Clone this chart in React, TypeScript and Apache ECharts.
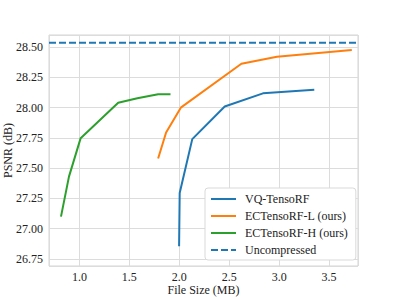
import React, { useEffect, useRef } from "react";
import * as echarts from "echarts";

const X_MIN = 0.695;
const X_MAX = 3.79;
const Y_MIN = 26.692;
const Y_MAX = 28.6;

const vqX = [1.998, 2.004, 2.13, 2.455, 2.838, 3.352];
const vqY = [26.855, 27.295, 27.74, 28.01, 28.118, 28.148];

const ecLX = [1.788, 1.868, 2.015, 2.622, 2.978, 3.728];
const ecLY = [27.58, 27.795, 28.0, 28.362, 28.42, 28.476];

const ecHX = [0.815, 0.895, 1.012, 1.388, 1.58, 1.788, 1.912];
const ecHY = [27.1, 27.43, 27.748, 28.04, 28.078, 28.11, 28.11];

const uncompressedPSNR = 28.535;

const seriesNames = ["VQ-TensoRF", "ECTensoRF-L (ours)", "ECTensoRF-H (ours)", "Uncompressed"];
const colors = ["#1f77b4", "#ff7f0e", "#2ca02c", "#1f77b4"];

const zip = (xs: number[], ys: number[]) => xs.map((x, i) => [x, ys[i]]);

export default function App() {
  const ref = useRef<HTMLDivElement>(null);
  useEffect(() => {
    if (!ref.current) return;
    const chart = echarts.init(ref.current, null, { renderer: "svg" });
    const font = "'Liberation Serif', 'Times New Roman', serif";
    const textColor = "#222222";
    const lineSeries = (name: string, data: number[][], color: string, dashed = false) => ({
      name,
      type: "line",
      data,
      symbol: "none",
      lineStyle: { color, width: 2, type: dashed ? [7, 3] : "solid" },
      itemStyle: { color },
      z: dashed ? 1 : 2,
    });
    chart.setOption({
      animation: false,
      textStyle: { fontFamily: font, color: textColor },
      grid: {
        left: 49,
        right: 41,
        top: 35,
        bottom: 33,
        containLabel: false,
        outerBoundsMode: "none",
        show: true,
        borderColor: "#d4d4d4",
        borderWidth: 1,
      },
      xAxis: {
        type: "value",
        min: X_MIN,
        max: X_MAX,
        minInterval: 0.5,
        maxInterval: 0.5,
        name: "File Size (MB)",
        nameLocation: "middle",
        nameGap: 18,
        nameMoveOverlap: false,
        nameTextStyle: { fontFamily: font, fontSize: 12, color: textColor },
        axisLine: { show: false },
        axisTick: { show: false },
        axisLabel: {
          fontFamily: font,
          fontSize: 12,
          color: textColor,
          margin: 5,
          showMinLabel: false,
          showMaxLabel: false,
          formatter: (v: number) => v.toFixed(1),
        },
        splitLine: { show: true, lineStyle: { color: "#dcdcdc", width: 1 } },
      },
      yAxis: {
        type: "value",
        min: Y_MIN,
        max: Y_MAX,
        minInterval: 0.25,
        maxInterval: 0.25,
        name: "PSNR (dB)",
        nameLocation: "middle",
        nameGap: 35,
        nameMoveOverlap: false,
        nameTextStyle: { fontFamily: font, fontSize: 12, color: textColor },
        axisLine: { show: false },
        axisTick: { show: false },
        axisLabel: {
          fontFamily: font,
          fontSize: 12,
          color: textColor,
          margin: 6,
          showMinLabel: false,
          showMaxLabel: false,
          formatter: (v: number) => v.toFixed(2),
        },
        splitLine: { show: true, lineStyle: { color: "#dcdcdc", width: 1 } },
      },
      legend: {
        orient: "vertical",
        left: 205,
        top: 188,
        itemWidth: 25,
        itemHeight: 12,
        itemGap: 5,
        padding: [5, 8, 4, 5],
        borderColor: "#d9d9d9",
        borderWidth: 1,
        borderRadius: 3,
        backgroundColor: "#ffffff",
        itemStyle: { opacity: 0, color: "rgba(0,0,0,0)", borderWidth: 0 },
        textStyle: { fontFamily: font, fontSize: 12, color: textColor, padding: [0, 0, 0, 4] },
        data: seriesNames,
      },
      series: [
        lineSeries(seriesNames[0], zip(vqX, vqY), colors[0]),
        lineSeries(seriesNames[1], zip(ecLX, ecLY), colors[1]),
        lineSeries(seriesNames[2], zip(ecHX, ecHY), colors[2]),
        lineSeries(
          seriesNames[3],
          [
            [X_MIN, uncompressedPSNR],
            [X_MAX, uncompressedPSNR],
          ],
          colors[3],
          true
        ),
      ],
    });
    return () => chart.dispose();
  }, []);
  return <div ref={ref} style={{ width: 399, height: 299, position: "absolute", left: 0, top: 0, background: "#fff" }} />;
}
